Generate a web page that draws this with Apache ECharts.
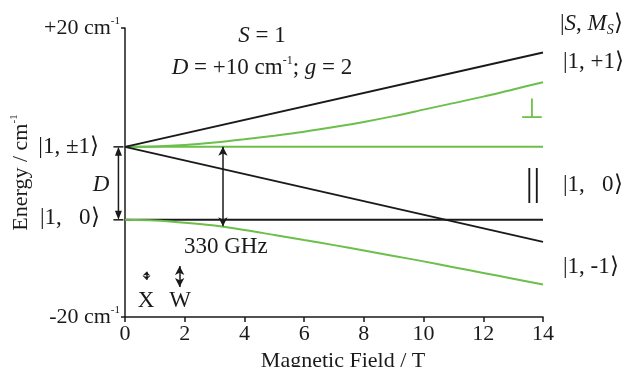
<!DOCTYPE html>
<html>
<head>
<meta charset="utf-8">
<script src="https://cdn.jsdelivr.net/npm/echarts@6/dist/echarts.min.js"></script>
<style>
html,body{margin:0;padding:0;background:#fff;}
#main{width:623px;height:367px;}
</style>
</head>
<body>
<div id="main"></div>
<script>
// Zeeman levels, S = 1 (energy in cm-1, field in T)
var fieldTicks = [0, 2, 4, 6, 8, 10, 12, 14];
var energyRange = [-20, 20];
var parallelUp = [[0, 3.55], [14, 16.6]];
var parallelDown = [[0, 3.55], [14, -9.6]];
var parallelZero = [[0, -6.55], [14, -6.55]];
var perpFlat = [[0, 3.55], [14, 3.55]];
var perpField = [0, 1, 2, 3, 4, 5, 6, 7, 8, 9, 10, 11, 12, 13, 14];
var perpUpper = [3.55, 3.6, 3.8, 4.15, 4.6, 5.1, 5.65, 6.3, 7.0, 7.8, 8.7, 9.6, 10.5, 11.5, 12.5];
var perpLower = [-6.55, -6.65, -6.95, -7.35, -7.95, -8.65, -9.35, -10.05, -10.8, -11.55, -12.3, -13.1, -13.9, -14.7, -15.5];
// transitions drawn as double arrows: field, from, to
var arrow330 = [3.28, 3.55, -7.45];
var arrowW = [1.83, -12.95, -15.85];
var arrowX = [0.72, -13.75, -14.85];
var zfsGap = [-0.22, 3.55, -6.55];

var FONT = 'Liberation Serif';
var INK = '#1a1a1a';
var GREEN = '#6cbf4a';

function pairs(xs, ys) {
    return xs.map(function (x, i) { return [x, ys[i]]; });
}
function arrowLine(a, size) {
    var p1 = {coord: [a[0], a[1]]}, p2 = {coord: [a[0], a[2]]};
    if (size) { p1.symbolSize = size; p2.symbolSize = size; }
    return [p1, p2];
}

var chart = echarts.init(document.getElementById('main'));

var lineBase = {
    type: 'line',
    symbol: 'none',
    silent: true,
    animation: false
};
var supStyle = {fontFamily: FONT, fontSize: 11, color: INK, verticalAlign: 'top', lineHeight: 11};

var option = {
    animation: false,
    grid: {left: 125, right: 80, top: 28, bottom: 50, outerBoundsMode: 'none'},
    xAxis: {
        type: 'value',
        min: fieldTicks[0],
        max: fieldTicks[fieldTicks.length - 1],
        interval: 2,
        name: 'Magnetic Field / T',
        nameLocation: 'middle',
        nameGap: 31,
        nameTextStyle: {fontFamily: FONT, fontSize: 22, color: INK, padding: [0, 0, 0, 18]},
        axisLine: {onZero: false, lineStyle: {color: INK, width: 1.5}},
        axisTick: {length: 5, lineStyle: {color: INK, width: 1.5}},
        axisLabel: {fontFamily: FONT, fontSize: 22, color: INK, margin: 6},
        splitLine: {show: false}
    },
    yAxis: {
        type: 'value',
        min: energyRange[0],
        max: energyRange[1],
        interval: 40,
        name: 'Energy / cm{sup|-1}',
        nameLocation: 'middle',
        nameGap: 92,
        nameRotate: 90,
        nameTextStyle: {fontFamily: FONT, fontSize: 22, color: INK, lineHeight: 24, rich: {sup: supStyle}},
        axisLine: {onZero: false, lineStyle: {color: INK, width: 1.5}},
        axisTick: {length: 4, lineStyle: {color: INK, width: 1.5}},
        axisLabel: {
            fontFamily: FONT, fontSize: 22, color: INK, margin: 5, lineHeight: 24,
            formatter: function (v) {
                return (v > 0 ? '+' : '') + v + ' cm{sup|-1}';
            },
            rich: {sup: supStyle}
        },
        splitLine: {show: false}
    },
    series: [
        Object.assign({}, lineBase, {data: parallelZero, lineStyle: {color: INK, width: 2}}),
        Object.assign({}, lineBase, {data: perpFlat, lineStyle: {color: GREEN, width: 2}}),
        Object.assign({}, lineBase, {data: pairs(perpField, perpUpper), smooth: 0.3, lineStyle: {color: GREEN, width: 2}}),
        Object.assign({}, lineBase, {data: pairs(perpField, perpLower), smooth: 0.3, lineStyle: {color: GREEN, width: 2}}),
        Object.assign({}, lineBase, {data: parallelUp, lineStyle: {color: INK, width: 2}}),
        Object.assign({}, lineBase, {
            data: parallelDown,
            lineStyle: {color: INK, width: 2},
            markLine: {
                silent: true,
                animation: false,
                symbol: ['arrow', 'arrow'],
                symbolSize: [7, 9],
                label: {show: false},
                lineStyle: {color: INK, width: 1.5, type: 'solid'},
                data: [arrowLine(arrow330), arrowLine(arrowW), arrowLine(arrowX, [6, 4])]
            }
        })
    ]
};
chart.setOption(option);

// texts
var rich = {
    i: {fontFamily: FONT, fontSize: 23, fontStyle: 'italic', color: INK, lineHeight: 26},
    sup: {fontFamily: FONT, fontSize: 12, color: INK, verticalAlign: 'top', lineHeight: 12},
    sub: {fontFamily: FONT, fontSize: 14, fontStyle: 'italic', color: INK, verticalAlign: 'bottom', lineHeight: 14}
};
function txt(str, x, y, align, extra) {
    var st = {
        text: str, x: x, y: y,
        fontFamily: FONT, fontSize: 23, fill: INK, lineHeight: 26,
        align: align || 'left', verticalAlign: 'middle', rich: rich
    };
    if (extra) Object.assign(st, extra);
    return {type: 'text', silent: true, style: st};
}

var graphics = [
    txt('{i|S} = 1', 262, 36, 'center'),
    txt('{i|D} = +10 cm{sup|-1}; {i|g} = 2', 262, 68, 'center'),
    txt('|{i|S}, {i|M}{sub|S}\u27E9', 560, 24),
    txt('|1, +1\u27E9', 563, 62),
    txt('|1,\u2002 0\u27E9', 563, 185),
    txt('|1, -1\u27E9', 563, 267),
    txt('|1, \u00B11\u27E9', 99, 147, 'right'),
    txt('|1,\u2002 0\u27E9', 40, 218),
    txt('{i|D}', 101, 185, 'center'),
    txt('330 GHz', 184, 247),
    txt('X', 146, 301, 'center'),
    txt('W', 180, 301, 'center'),
    txt('\u22A5', 532, 111, 'center', {fill: GREEN, fontFamily: 'DejaVu Sans', fontSize: 28, lineHeight: 30}),
    txt('||', 533, 185, 'center', {fontSize: 38, lineHeight: 40})
];

// D arrow left of the energy axis
var pTop = chart.convertToPixel({gridIndex: 0}, [zfsGap[0], zfsGap[1]]);
var pBot = chart.convertToPixel({gridIndex: 0}, [zfsGap[0], zfsGap[2]]);
var ax = pTop[0];
var arrowStyle = {stroke: INK, lineWidth: 1.5};
graphics.push(
    {type: 'line', silent: true, shape: {x1: ax, y1: pTop[1] + 4, x2: ax, y2: pBot[1] - 4}, style: arrowStyle},
    {type: 'line', silent: true, shape: {x1: ax - 5, y1: pTop[1], x2: ax + 5, y2: pTop[1]}, style: arrowStyle},
    {type: 'line', silent: true, shape: {x1: ax - 5, y1: pBot[1], x2: ax + 5, y2: pBot[1]}, style: arrowStyle},
    {type: 'polygon', silent: true, shape: {points: [[ax, pTop[1]], [ax - 3.5, pTop[1] + 9], [ax + 3.5, pTop[1] + 9]]}, style: {fill: INK}},
    {type: 'polygon', silent: true, shape: {points: [[ax, pBot[1]], [ax - 3.5, pBot[1] - 9], [ax + 3.5, pBot[1] - 9]]}, style: {fill: INK}}
);

chart.setOption({graphic: graphics});

window.addEventListener('resize', function () {
    chart.resize();
});
</script>
</body>
</html>
